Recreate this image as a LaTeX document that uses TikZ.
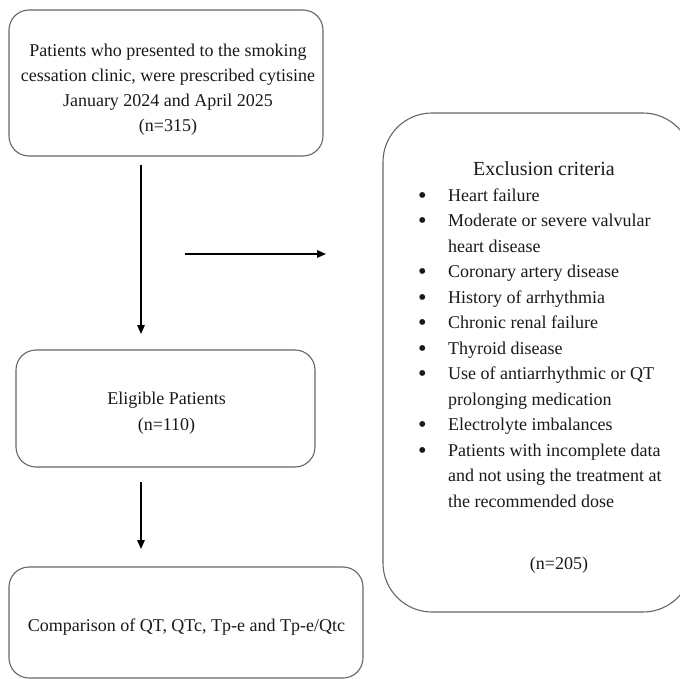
\documentclass[tikz,border=0pt]{standalone}
\usepackage{fontspec}
\setmainfont{Liberation Serif}
\usetikzlibrary{arrows.meta}
\newcommand{\bl}{\raisebox{-2pt}{\scalebox{1.35}{\textbullet}}}
\begin{document}
\begin{tikzpicture}[x=1pt,y=-1pt,
  box/.style={draw=black!60, line width=1.1pt, rounded corners=20pt, inner sep=0pt},
  txt/.style={align=center, font=\fontsize{18}{25}\selectfont, inner sep=0pt, text=black!90},
  arr/.style={-{Triangle[length=9pt,width=7.5pt]}, line width=1.4pt}]
\clip (0,0) rectangle (680,679);
% boxes
\node[box, minimum width=314pt, minimum height=146pt] (b1) at (166,83) {};
\node[box, minimum width=299pt, minimum height=117pt] (b2) at (165.5,408.5) {};
\node[box, minimum width=354pt, minimum height=111pt] (b3) at (186,622.5) {};
\node[box, rounded corners=49pt, minimum width=309pt, minimum height=499pt] (ex) at (537.5,362.5) {};
% texts
\node[txt] (t1) at (168,90) {Patients who presented to the smoking\\cessation clinic, were prescribed cytisine\\January 2024 and April 2025\\(n=315)};
\node[txt, font=\fontsize{18}{26}\selectfont] (t2) at (166.5,413) {Eligible Patients\\(n=110)};
\node[txt] (t3) at (186.5,627) {Comparison of QT, QTc, Tp-e and Tp-e/Qtc};
\node[txt, font=\fontsize{20}{24}\selectfont] (exh) at (544,168.5) {Exclusion criteria};
\node[anchor=north west, inner sep=0pt, text=black!90] (exl) at (418,183.2) {\fontsize{18}{25.5}\selectfont
\begin{tabular}{@{}p{30pt}@{}p{240pt}@{}}
\bl & Heart failure\\
\bl & Moderate or severe valvular\newline heart disease\\
\bl & Coronary artery disease\\
\bl & History of arrhythmia\\
\bl & Chronic renal failure\\
\bl & Thyroid disease\\
\bl & Use of antiarrhythmic or QT\newline prolonging medication\\
\bl & Electrolyte imbalances\\
\bl & Patients with incomplete data\newline and not using the treatment at\newline the recommended dose\\
\end{tabular}};
\node[txt] (exn) at (559,565) {(n=205)};
% arrows
\coordinate (a1s) at (141,165);
\coordinate (a1e) at (141,334);
\coordinate (a2s) at (185,254);
\coordinate (a2e) at (326,254);
\coordinate (a3s) at (141,482);
\coordinate (a3e) at (141,549);
\draw[arr] (a1s) -- (a1e);
\draw[arr] (a2s) -- (a2e);
\draw[arr] (a3s) -- (a3e);
\end{tikzpicture}
\end{document}
